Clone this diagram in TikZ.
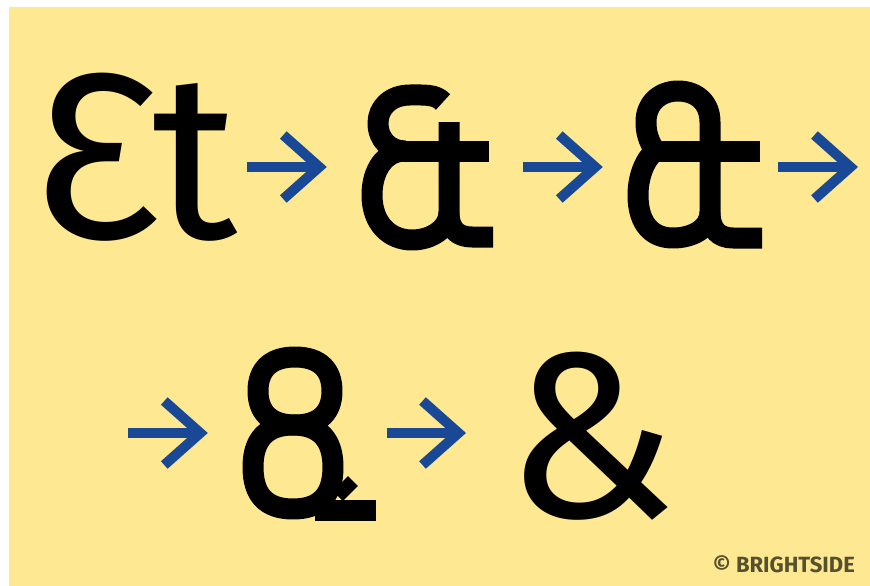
\documentclass[tikz,border=0pt]{standalone}
\usepackage{fontspec}
\usepackage{tikz}
\usepackage{xcolor}
\setmainfont{Fira Sans}
\usetikzlibrary{arrows.meta,positioning,fit}

\definecolor{sandyellow}{RGB}{254,232,145}
\definecolor{arrowblue}{RGB}{24,72,150}
\definecolor{creditgray}{RGB}{85,80,45}

\begin{document}
\begin{tikzpicture}[x=1pt, y=-1pt,
    stage/.style={draw=black, line width=21pt, line join=round},
    nextarrow/.style={draw=arrowblue, line width=10pt,
      -{Straight Barb[length=36pt, width=64pt]}},
    bigglyph/.style={inner sep=0pt, font=\fontsize{236}{236}\selectfont}]
  \useasboundingbox (0,0) rectangle (870,586);
  \fill[white] (0,0) rectangle (870,586);
  \fill[sandyellow] (9,7) rectangle (870,586);

  \coordinate (row1) at (0,167);
  \coordinate (row2) at (0,433);
  \coordinate (rowend) at (858,167);
  \coordinate (rowstart) at (128,433);

  % et, as written
  \node[bigglyph, anchor=base west] (et) at (36,238) {Ɛt};

  % first ligature
  \draw[stage] (443,102) .. controls (436,94) and (424,95) .. (410,95)
    .. controls (390,95) and (378,108) .. (378,123)
    .. controls (378,140) and (390,151) .. (405,151);
  \draw[stage] (405,151) .. controls (385,151) and (372,170) .. (372,195)
    .. controls (372,224) and (390,240) .. (412,240)
    .. controls (432,240) and (449,228) .. (449,212);
  \draw[stage] (395,151) -- (489,151);
  \draw[stage] (449,122) -- (449,212)
    .. controls (449,230) and (458,237) .. (472,237) -- (493,237);
  \node[fit={(362,85) (493,248)}, inner sep=0pt] (lig1) {};

  % closed upper loop
  \draw[stage] (655,151) .. controls (648,140) and (646,132) .. (646,122)
    .. controls (646,103) and (660,91) .. (678,91)
    .. controls (697,91) and (710,103) .. (710,122) -- (710,212)
    .. controls (710,230) and (719,238) .. (733,238) -- (762,238);
  \draw[stage] (655,151) .. controls (644,160) and (638,178) .. (638,195)
    .. controls (638,224) and (652,238) .. (673,238)
    .. controls (693,238) and (710,228) .. (710,212);
  \draw[stage] (648,151) -- (760,151);
  \node[fit={(627,80) (762,248)}, inner sep=0pt] (lig2) {};

  % two loops
  \draw[stage] (295,357) .. controls (320,357) and (332,370) .. (332,391)
    .. controls (332,412) and (320,425) .. (295,425)
    .. controls (270,425) and (258,412) .. (258,391)
    .. controls (258,370) and (270,357) .. (295,357) -- cycle;
  \draw[stage] (293,425) .. controls (320,425) and (333,440) .. (333,467)
    .. controls (333,495) and (320,509) .. (293,509)
    .. controls (266,509) and (253,495) .. (253,467)
    .. controls (253,440) and (266,425) .. (293,425) -- cycle;
  \draw[stage] (315,510) -- (376,510);
  \draw[stage, line width=14pt] (338,496) -- (353,481);
  \node[fit={(243,348) (376,520)}, inner sep=0pt] (lig3) {};

  % today
  \node[bigglyph, anchor=base west] (amp) at (505,517) {\&};

  \draw[nextarrow, shorten <=10pt, shorten >=35pt] (et.east |- row1) -- (lig1.west |- row1);
  \draw[nextarrow, shorten <=30pt, shorten >=24pt] (lig1.east |- row1) -- (lig2.west |- row1);
  \draw[nextarrow, shorten <=16pt] (lig2.east |- row1) -- (rowend);
  \draw[nextarrow, shorten >=35pt] (rowstart) -- (lig3.west |- row2);
  \draw[nextarrow, shorten <=11pt, shorten >=39pt] (lig3.east |- row2) -- (amp.west |- row2);

  \node[font=\fontsize{22}{22}\selectfont\bfseries, text=creditgray,
    anchor=base east, inner sep=0pt] (credit) at (855,572) {© BRIGHTSIDE};
\end{tikzpicture}
\end{document}
